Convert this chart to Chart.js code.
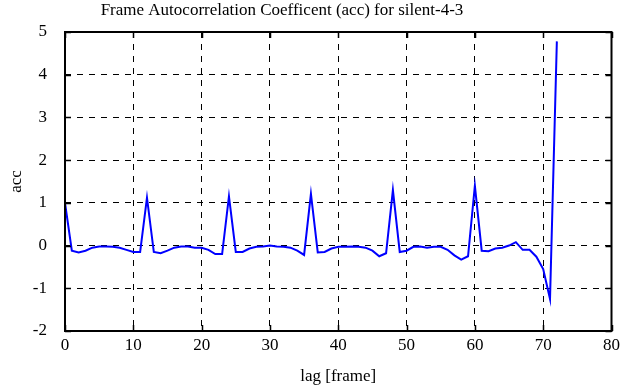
<!DOCTYPE html>
<html>
<head>
<meta charset="utf-8">
<script src="https://cdn.jsdelivr.net/npm/chart.js@4/dist/chart.umd.min.js"></script>
<style>
  html, body { margin: 0; padding: 0; background: #fff; }
  #wrap { width: 624px; height: 387px; }
</style>
</head>
<body>
<div id="wrap"><canvas id="c"></canvas></div>
<script>
// acc values for lag 0..72
var lags = [];
for (var i = 0; i <= 72; i++) lags.push(i);
var acc = [
  1.00, -0.12, -0.16, -0.12, -0.05, -0.02, -0.02, -0.03, -0.05, -0.10,
  -0.15, -0.15, 1.12, -0.15, -0.18, -0.12, -0.05, -0.02, -0.02, -0.05,
  -0.05, -0.10, -0.20, -0.20, 1.15, -0.15, -0.15, -0.07, -0.03, -0.02,
  0.00, -0.02, -0.03, -0.05, -0.12, -0.22, 1.21, -0.16, -0.15, -0.07,
  -0.03, -0.03, -0.02, -0.03, -0.05, -0.12, -0.25, -0.18, 1.30, -0.15,
  -0.12, -0.03, -0.02, -0.05, -0.03, -0.03, -0.10, -0.23, -0.33, -0.25,
  1.40, -0.12, -0.13, -0.07, -0.05, 0.00, 0.08, -0.10, -0.10, -0.26,
  -0.55, -1.25, 4.78
];

var xTicks = [0, 10, 20, 30, 40, 50, 60, 70, 80];
var yTicks = [-2, -1, 0, 1, 2, 3, 4, 5];
var titleText = 'Frame Autocorrelation Coefficent (acc) for silent-4-3';

var points = lags.map(function (l, i) { return { x: l, y: acc[i] }; });

var font = { family: "'Liberation Serif', 'DejaVu Serif', serif", size: 17, weight: 'normal' };

// frame, inward ticks and title like gnuplot
var framePlugin = {
  id: 'frame',
  afterDraw: function (chart) {
    var ctx = chart.ctx, a = chart.chartArea;
    var xs = chart.scales.x, ys = chart.scales.y;
    ctx.save();
    ctx.strokeStyle = '#000';
    ctx.lineWidth = 2;
    ctx.strokeRect(a.left, a.top, a.right - a.left, a.bottom - a.top);
    ctx.lineWidth = 1.5;
    ctx.beginPath();
    xTicks.forEach(function (v) {
      var px = Math.round(xs.getPixelForValue(v)) + 0.5;
      ctx.moveTo(px, a.bottom); ctx.lineTo(px, a.bottom - 6);
      ctx.moveTo(px, a.top); ctx.lineTo(px, a.top + 6);
    });
    yTicks.forEach(function (v) {
      var py = Math.round(ys.getPixelForValue(v)) + 0.5;
      ctx.moveTo(a.left, py); ctx.lineTo(a.left + 6, py);
      ctx.moveTo(a.right, py); ctx.lineTo(a.right - 6, py);
    });
    ctx.stroke();
    ctx.fillStyle = '#000';
    ctx.font = font.size + 'px ' + font.family;
    ctx.textAlign = 'center';
    ctx.textBaseline = 'middle';
    ctx.fillText(titleText, 282, 11);
    ctx.restore();
  }
};

new Chart(document.getElementById('c'), {
  type: 'line',
  data: {
    datasets: [{
      data: points,
      borderColor: '#0000ff',
      borderWidth: 2,
      pointRadius: 0,
      tension: 0,
      fill: false
    }]
  },
  options: {
    responsive: true,
    maintainAspectRatio: false,
    animation: false,
    layout: { padding: { left: 0, right: 12, top: 32, bottom: 0 } },
    plugins: {
      legend: { display: false },
      tooltip: { enabled: false },
      title: { display: false }
    },
    scales: {
      x: {
        type: 'linear',
        min: 0, max: 80,
        afterBuildTicks: function (s) { s.ticks = xTicks.map(function (v) { return { value: v }; }); },
        afterFit: function (s) { s.height = 56; },
        ticks: { color: '#000', font: font, padding: 4, maxRotation: 0 },
        grid: { color: '#000', lineWidth: 1, drawTicks: false },
        border: { display: false, dash: [6, 6] },
        title: { display: true, text: 'lag [frame]', color: '#000', font: font, padding: { top: 2, bottom: 0 } }
      },
      y: {
        min: -2, max: 5,
        afterBuildTicks: function (s) { s.ticks = yTicks.map(function (v) { return { value: v }; }); },
        afterFit: function (s) { s.width = 65; },
        ticks: { color: '#000', font: font, padding: 18 },
        grid: { color: '#000', lineWidth: 1, drawTicks: false },
        border: { display: false, dash: [6, 6] },
        title: { display: true, text: 'acc', color: '#000', font: font, padding: { top: 6, bottom: 0 } }
      }
    }
  },
  plugins: [framePlugin]
});
</script>
</body>
</html>
